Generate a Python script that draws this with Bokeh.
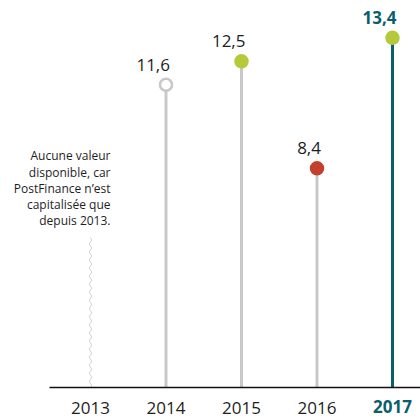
import numpy as np
from bokeh.plotting import figure
from bokeh.models import ColumnDataSource, Range1d, FixedTicker, Label, LinearAxis
from bokeh.core.properties import value
from bokeh.embed import file_html
from bokeh.resources import INLINE

# ---- data ----
years = ["2013", "2014", "2015", "2016", "2017"]
yields = [None, 11.6, 12.5, 8.4, 13.4]
value_labels = ["", "11,6", "12,5", "8,4", "13,4"]
note_text = "Aucune valeur\ndisponible, car\nPostFinance n\u2019est\ncapitalisée que\ndepuis 2013."

# ---- styles ----
GRAY = "#c8c8c8"
GREEN = "#b5c93a"
RED = "#c2402c"
TEAL = "#0b5e6c"
INK = "#1e1e1e"
FONT = "Open Sans"

stem_color = [None, GRAY, GRAY, GRAY, TEAL]
marker_fill = [None, "white", GREEN, RED, GREEN]
marker_line = [None, GRAY, GREEN, RED, GREEN]
label_color = [None, INK, INK, INK, TEAL]
label_style = [None, "normal", "normal", "normal", "bold"]

idx = list(range(len(years)))
rows = [i for i in idx if yields[i] is not None]

src = ColumnDataSource(dict(
    x=[i for i in rows],
    y0=[0 for i in rows],
    y=[yields[i] for i in rows],
    stem=[stem_color[i] for i in rows],
    fill=[marker_fill[i] for i in rows],
    line=[marker_line[i] for i in rows],
    lab=[value_labels[i] for i in rows],
    lcol=[label_color[i] for i in rows],
    lsty=[label_style[i] for i in rows],
))

p = figure(width=420, height=419,
           x_range=Range1d(-1.192, 4.371), y_range=Range1d(-1.226, 14.828),
           output_backend="svg", toolbar_location=None,
           x_axis_location=None, y_axis_location=None,
           min_border_left=0, min_border_right=0,
           min_border_top=0, min_border_bottom=0)
p.outline_line_color = None
p.background_fill_color = "white"
p.border_fill_color = "white"
p.grid.visible = False
p.grid.grid_line_color = None

# stems
p.segment(x0="x", y0="y0", x1="x", y1="y", source=src,
          line_color="stem", line_width=3)

# wavy placeholder for 2013
SQ_TOP = 5.75
ys = np.linspace(0, SQ_TOP, 400)
xs = 0 + 0.014 * np.sin(2 * np.pi * ys / 0.31)
p.line(xs, ys, line_color=GRAY, line_width=1)

# markers
p.scatter(x="x", y="y", source=src, size=12, marker="circle",
          fill_color="fill", line_color="line", line_width=2.5)

# value labels (right edge just past the stem)
p.text(x="x", y="y", text="lab", source=src,
       text_font=value(FONT), text_font_size="17px",
       text_color="lcol", text_font_style="lsty",
       text_align="right", text_baseline="alphabetic",
       x_offset=4, y_offset=-20)

# note
p.add_layout(Label(x=0, y=9.2, x_offset=20, text=note_text,
                   text_font=FONT, text_font_size="12px",
                   text_color=INK, text_align="right", text_baseline="top",
                   text_line_height=0.95))

# x axis inside the frame at y = 0
ax = LinearAxis(fixed_location=0, bounds=(-0.543, 4.371))
ax.ticker = FixedTicker(ticks=idx)
ax.major_label_overrides = {i: (years[i] if i != 4 else "") for i in idx}
ax.major_tick_line_color = None
ax.minor_tick_line_color = None
ax.axis_line_color = "#111111"
ax.axis_line_width = 1.5
ax.major_label_text_font = FONT
ax.major_label_text_font_size = "17px"
ax.major_label_text_color = INK
ax.major_label_standoff = 8
p.add_layout(ax, "below")

p.add_layout(Label(x=4, y=0, y_offset=-12, text=years[4],
                   text_font=FONT, text_font_size="17px",
                   text_font_style="bold", text_color=TEAL,
                   text_align="center", text_baseline="top"))

open("out.html", "w").write(file_html(p, INLINE))
